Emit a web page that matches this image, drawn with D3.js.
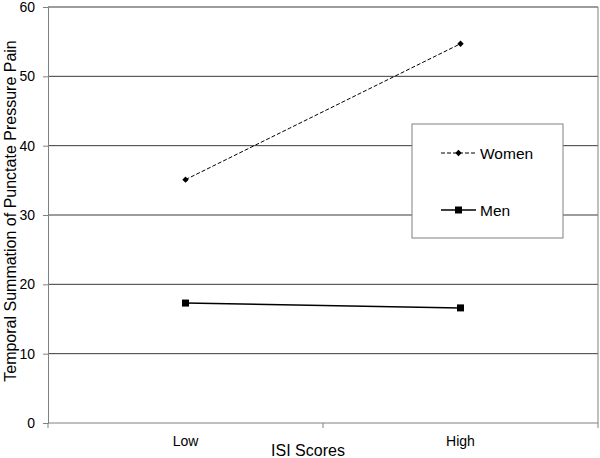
<!DOCTYPE html>
<html lang="en">
<head>
<meta charset="UTF-8">
<title>ISI Scores chart</title>
<script src="https://d3js.org/d3.v7.min.js"></script>
<style>
    body { margin: 0; background: #fff; font-family: 'Liberation Sans', Arial, sans-serif; }
    text { fill: #000; }
</style>
</head>
<body>
<div id="chart"></div>
<script>
    // data
    const categories = ["Low", "High"];
    const women = [35.1, 54.7];
    const men = [17.3, 16.6];
    const yTicks = [0, 10, 20, 30, 40, 50, 60];

    const width = 600, height = 458;
    const margin = { left: 48, right: 2, top: 7, bottom: 35 };

    const svg = d3.select("#chart").append("svg")
        .attr("width", width)
        .attr("height", height);

    const x = d3.scaleBand()
        .domain(categories)
        .range([margin.left, width - margin.right]);

    const y = d3.scaleLinear()
        .domain([0, 60])
        .range([height - margin.bottom, margin.top]);

    // gridlines
    svg.append("g")
        .selectAll("line")
        .data(yTicks.filter(d => d > 0))
        .join("line")
        .attr("x1", margin.left)
        .attr("x2", width - margin.right)
        .attr("y1", d => y(d))
        .attr("y2", d => y(d))
        .attr("stroke", "#3a3a3a")
        .attr("stroke-width", 1);

    // right border of plot area
    svg.append("line")
        .attr("x1", width - margin.right).attr("x2", width - margin.right)
        .attr("y1", margin.top).attr("y2", height - margin.bottom)
        .attr("stroke", "#808080");

    // y axis
    const yAxis = svg.append("g")
        .attr("transform", `translate(${margin.left},0)`)
        .call(d3.axisLeft(y).tickValues(yTicks).tickSize(5).tickPadding(8));
    yAxis.select(".domain").attr("stroke", "#808080");
    yAxis.selectAll(".tick line").attr("stroke", "#808080");
    yAxis.selectAll("text").attr("font-size", 14).attr("fill", "#000")
        .attr("font-family", "'Liberation Sans', Arial, sans-serif");

    // x axis with ticks at band boundaries
    const bottom = height - margin.bottom;
    svg.append("line")
        .attr("x1", margin.left).attr("x2", width - margin.right)
        .attr("y1", bottom).attr("y2", bottom)
        .attr("stroke", "#808080");
    const bounds = categories.map(c => x(c)).concat([x(categories[categories.length - 1]) + x.bandwidth()]);
    svg.append("g").selectAll("line")
        .data(bounds)
        .join("line")
        .attr("x1", d => d).attr("x2", d => d)
        .attr("y1", bottom).attr("y2", bottom + 5)
        .attr("stroke", "#808080");
    svg.append("g").selectAll("text")
        .data(categories)
        .join("text")
        .attr("x", d => x(d) + x.bandwidth() / 2)
        .attr("y", bottom + 23)
        .attr("text-anchor", "middle")
        .attr("font-size", 14)
        .text(d => d);

    // axis titles
    svg.append("text")
        .attr("x", 308)
        .attr("y", 456)
        .attr("text-anchor", "middle")
        .attr("font-size", 16)
        .text("ISI Scores");

    svg.append("text")
        .attr("transform", `translate(16,211) rotate(-90)`)
        .attr("text-anchor", "middle")
        .attr("font-size", 16)
        .text("Temporal Summation of Punctate Pressure Pain");

    const cx = d => x(d) + x.bandwidth() / 2;
    const line = d3.line()
        .x((d, i) => cx(categories[i]))
        .y(d => y(d));

    // women series: dashed with diamonds
    svg.append("path")
        .datum(women)
        .attr("d", line)
        .attr("fill", "none")
        .attr("stroke", "#000")
        .attr("stroke-width", 1)
        .attr("stroke-dasharray", "4,2");
    svg.append("g").selectAll("path")
        .data(women)
        .join("path")
        .attr("d", d3.symbol(d3.symbolDiamond2, 26))
        .attr("transform", (d, i) => `translate(${cx(categories[i])},${y(d)})`)
        .attr("fill", "#000");

    // men series: solid with squares
    svg.append("path")
        .datum(men)
        .attr("d", line)
        .attr("fill", "none")
        .attr("stroke", "#000")
        .attr("stroke-width", 1.5);
    svg.append("g").selectAll("rect")
        .data(men)
        .join("rect")
        .attr("x", (d, i) => cx(categories[i]) - 3.5)
        .attr("y", d => y(d) - 3.5)
        .attr("width", 7)
        .attr("height", 7)
        .attr("fill", "#000");

    // legend
    const lg = svg.append("g").attr("transform", "translate(412,124)");
    lg.append("rect")
        .attr("width", 151)
        .attr("height", 114)
        .attr("fill", "#fff")
        .attr("stroke", "#808080");
    lg.append("line")
        .attr("x1", 29).attr("x2", 64).attr("y1", 29).attr("y2", 29)
        .attr("stroke", "#000").attr("stroke-dasharray", "4,2");
    lg.append("path")
        .attr("d", d3.symbol(d3.symbolDiamond2, 26))
        .attr("transform", "translate(46.5,29)")
        .attr("fill", "#000");
    lg.append("text")
        .attr("x", 68).attr("y", 34.5)
        .attr("font-size", 15.5)
        .text("Women");
    lg.append("line")
        .attr("x1", 29).attr("x2", 64).attr("y1", 86).attr("y2", 86)
        .attr("stroke", "#000").attr("stroke-width", 1.5);
    lg.append("rect")
        .attr("x", 43).attr("y", 82.5).attr("width", 7).attr("height", 7)
        .attr("fill", "#000");
    lg.append("text")
        .attr("x", 68).attr("y", 91.5)
        .attr("font-size", 15.5)
        .text("Men");
</script>
</body>
</html>
